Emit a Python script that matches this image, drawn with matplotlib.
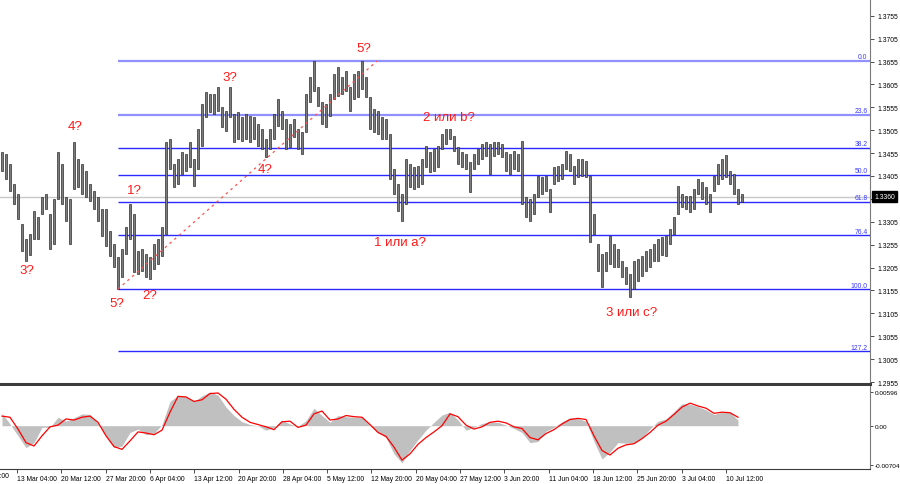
import numpy as np
import matplotlib
matplotlib.use('Agg')
import matplotlib.pyplot as plt
import matplotlib.transforms as mtransforms

plt.rcParams['font.family'] = ['Liberation Sans', 'DejaVu Sans']

# ---------------- data ----------------
highs = [
    1.3457, 1.3453, 1.3431, 1.3387, 1.3366, 1.3300, 1.3267, 1.3278, 1.3329, 1.3315,
    1.3359, 1.3366, 1.3322, 1.3355, 1.3457, 1.3431, 1.3359, 1.3355, 1.3479, 1.3442,
    1.3431, 1.3416, 1.3387, 1.3372, 1.3359, 1.3333, 1.3333, 1.3285, 1.3256, 1.3228,
    1.3246, 1.3294, 1.3344, 1.3322, 1.3241, 1.3246, 1.3235, 1.3228, 1.3256, 1.3267,
    1.3294, 1.3479, 1.3486, 1.3431, 1.3442, 1.3457, 1.3453, 1.3479, 1.3442, 1.3508,
    1.3562, 1.3588, 1.3584, 1.3584, 1.3599, 1.3555, 1.3546, 1.3599, 1.3540, 1.3544,
    1.3533, 1.3540, 1.3536, 1.3533, 1.3518, 1.3508, 1.3486, 1.3508, 1.3540, 1.3573,
    1.3546, 1.3529, 1.3518, 1.3529, 1.3508, 1.3501, 1.3584, 1.3621, 1.3656, 1.3599,
    1.3566, 1.3562, 1.3584, 1.3628, 1.3643, 1.3621, 1.3634, 1.3599, 1.3628, 1.3634,
    1.3656, 1.3621, 1.3577, 1.3551, 1.3546, 1.3533, 1.3529, 1.3497, 1.3420, 1.3387,
    1.3366, 1.3442, 1.3431, 1.3425, 1.3427, 1.3442, 1.3470, 1.3457, 1.3464, 1.3470,
    1.3497, 1.3508, 1.3508, 1.3492, 1.3468, 1.3457, 1.3453, 1.3436, 1.3453, 1.3464,
    1.3475, 1.3479, 1.3475, 1.3479, 1.3479, 1.3475, 1.3457, 1.3453, 1.3460, 1.3453,
    1.3481, 1.3359, 1.3355, 1.3366, 1.3405, 1.3403, 1.3405, 1.3377, 1.3425, 1.3427,
    1.3431, 1.3460, 1.3453, 1.3427, 1.3442, 1.3442, 1.3438, 1.3405, 1.3322, 1.3256,
    1.3235, 1.3239, 1.3274, 1.3256, 1.3246, 1.3219, 1.3206, 1.3191, 1.3219, 1.3224,
    1.3230, 1.3241, 1.3246, 1.3256, 1.3267, 1.3272, 1.3274, 1.3289, 1.3315, 1.3383,
    1.3366, 1.3361, 1.3361, 1.3377, 1.3398, 1.3392, 1.3381, 1.3366, 1.3405, 1.3431,
    1.3442, 1.3451, 1.3416, 1.3409, 1.3377, 1.3366,
]
lows = [
    1.3416, 1.3398, 1.3372, 1.3344, 1.3311, 1.3241, 1.3219, 1.3232, 1.3267, 1.3267,
    1.3322, 1.3333, 1.3246, 1.3256, 1.3355, 1.3344, 1.3307, 1.3256, 1.3377, 1.3381,
    1.3366, 1.3359, 1.3350, 1.3333, 1.3307, 1.3274, 1.3252, 1.3230, 1.3206, 1.3158,
    1.3184, 1.3235, 1.3267, 1.3196, 1.3191, 1.3198, 1.3184, 1.3180, 1.3202, 1.3213,
    1.3230, 1.3278, 1.3420, 1.3381, 1.3387, 1.3409, 1.3416, 1.3425, 1.3383, 1.3420,
    1.3470, 1.3533, 1.3544, 1.3540, 1.3546, 1.3512, 1.3503, 1.3533, 1.3479, 1.3486,
    1.3481, 1.3486, 1.3479, 1.3486, 1.3470, 1.3464, 1.3447, 1.3464, 1.3486, 1.3514,
    1.3508, 1.3464, 1.3468, 1.3490, 1.3464, 1.3453, 1.3501, 1.3566, 1.3590, 1.3558,
    1.3518, 1.3512, 1.3536, 1.3573, 1.3579, 1.3584, 1.3590, 1.3546, 1.3573, 1.3577,
    1.3595, 1.3577, 1.3508, 1.3501, 1.3497, 1.3486, 1.3486, 1.3398, 1.3366, 1.3329,
    1.3307, 1.3344, 1.3381, 1.3377, 1.3381, 1.3387, 1.3425, 1.3414, 1.3416, 1.3425,
    1.3464, 1.3475, 1.3486, 1.3460, 1.3431, 1.3425, 1.3420, 1.3370, 1.3420, 1.3431,
    1.3442, 1.3449, 1.3409, 1.3449, 1.3453, 1.3447, 1.3416, 1.3409, 1.3420, 1.3416,
    1.3344, 1.3315, 1.3307, 1.3322, 1.3359, 1.3366, 1.3372, 1.3326, 1.3387, 1.3394,
    1.3398, 1.3420, 1.3416, 1.3387, 1.3403, 1.3405, 1.3403, 1.3261, 1.3278, 1.3198,
    1.3163, 1.3198, 1.3213, 1.3206, 1.3206, 1.3184, 1.3169, 1.3141, 1.3158, 1.3176,
    1.3187, 1.3198, 1.3206, 1.3219, 1.3219, 1.3232, 1.3230, 1.3256, 1.3278, 1.3322,
    1.3337, 1.3333, 1.3326, 1.3333, 1.3366, 1.3355, 1.3344, 1.3326, 1.3372, 1.3387,
    1.3398, 1.3403, 1.3387, 1.3366, 1.3344, 1.3348,
]
last_price = 1.3360

fib_high = 1.3657
fib_low = 1.3158
fib_start = 29          # candle of the swing low
fib_ratios = [0.0, 23.6, 38.2, 50.0, 61.8, 76.4, 100.0, 127.2]

trend_idx = [29, 93.75]
trend_price = [1.3158, 1.3656]

wave_text = ['3?', '4?', '5?', '1?', '2?', '3?', '4?', '5?',
             '1 или a?', '2 или b?', '3 или c?']
wave_idx = [6.25, 18.25, 28.75, 33.0, 37.0, 57.0, 65.75, 90.5,
            99.5, 111.75, 157.5]
wave_price = [1.3200, 1.3514, 1.3128, 1.3374, 1.3145, 1.3621, 1.3420, 1.3685,
              1.3261, 1.3534, 1.3108]

# MACD, one value every 2 candles
macd_hist = [
    0.0022, 0.0003, -0.0018, -0.0039, -0.0030, -0.0003, -0.0003, 0.0015, 0.0008, 0.0014,
    0.0021, 0.0020, 0.0004, -0.0018, -0.0039, -0.0036, -0.0012, -0.0006, -0.0016, -0.0014,
    0.0002, 0.0043, 0.0054, 0.0051, 0.0043, 0.0053, 0.0060, 0.0054, 0.0033, 0.0018,
    0.0007, 0.0002, 0.0000, -0.0008, -0.0003, 0.0010, 0.0003, -0.0001, 0.0009, 0.0031,
    0.0018, 0.0006, 0.0018, 0.0016, 0.0015, 0.0015, 0.0000, -0.0012, -0.0021, -0.0050,
    -0.0066, -0.0044, -0.0025, -0.0008, 0.0006, 0.0019, 0.0024, 0.0010, -0.0008, -0.0003,
    0.0004, 0.0007, 0.0006, 0.0001, -0.0005, -0.0012, -0.0030, -0.0028, -0.0010, -0.0003,
    0.0007, 0.0014, 0.0013, 0.0008, -0.0028, -0.0059, -0.0047, -0.0030, -0.0031, -0.0031,
    -0.0021, -0.0006, 0.0008, 0.0012, 0.0025, 0.0039, 0.0038, 0.0034, 0.0028, 0.0020,
    0.0024, 0.0024, 0.0010,
]
macd_signal = [
    0.0017, 0.0015, -0.0006, -0.0030, -0.0036, -0.0018, -0.0002, 0.0001, 0.0012, 0.0010,
    0.0015, 0.0017, 0.0006, -0.0018, -0.0037, -0.0042, -0.0027, -0.0011, -0.0013, -0.0016,
    -0.0008, 0.0024, 0.0052, 0.0051, 0.0043, 0.0046, 0.0057, 0.0058, 0.0047, 0.0029,
    0.0015, 0.0006, 0.0002, -0.0002, -0.0007, 0.0007, 0.0008, -0.0003, 0.0001, 0.0021,
    0.0026, 0.0010, 0.0012, 0.0018, 0.0016, 0.0015, 0.0002, -0.0012, -0.0019, -0.0038,
    -0.0061, -0.0050, -0.0033, -0.0021, -0.0011, 0.0000, 0.0021, 0.0016, 0.0001, -0.0006,
    -0.0002, 0.0006, 0.0008, 0.0005, -0.0002, -0.0005, -0.0021, -0.0025, -0.0014, -0.0007,
    0.0003, 0.0011, 0.0013, 0.0011, -0.0018, -0.0044, -0.0052, -0.0040, -0.0034, -0.0032,
    -0.0023, -0.0012, 0.0001, 0.0008, 0.0020, 0.0033, 0.0040, 0.0035, 0.0031, 0.0022,
    0.0024, 0.0023, 0.0015,
]
macd_ticks = [0.00596, 0.0, -0.00704]
macd_tick_labels = ['0.00596', '0.00', '-0.00704']

date_labels = ['5 Mar 20:00', '13 Mar 04:00', '20 Mar 12:00', '27 Mar 20:00', '6 Apr 04:00',
               '13 Apr 12:00', '20 Apr 20:00', '28 Apr 04:00', '5 May 12:00',
               '12 May 20:00', '20 May 04:00', '27 May 12:00', '3 Jun 20:00',
               '11 Jun 04:00', '18 Jun 12:00', '25 Jun 20:00', '3 Jul 04:00', '10 Jul 12:00']

# ---------------- layout ----------------
W, H = 900, 485
PX_PER_BAR = 4.0
AX_W = 870
fig = plt.figure(figsize=(W / 100, H / 100), dpi=100)
ax = fig.add_axes([0, 1 - 385 / H, AX_W / W, 385 / H])
axm = fig.add_axes([0, 1 - 470 / H, AX_W / W, 83 / H])

xmin = -0.5
xmax = xmin + AX_W / PX_PER_BAR
TXT = 4.9

# ---------------- price panel ----------------
n = len(highs)
xs = np.arange(n)
hi = np.array(highs)
lo = np.array(lows)
ax.bar(xs, hi - lo, bottom=lo, width=0.72, color='#7c7c7c', edgecolor='#1e1e1e',
       linewidth=0.45, zorder=3)

ax.axhline(last_price, color='#c8c8c8', lw=1.0, zorder=1)

rng = fib_high - fib_low
for r in fib_ratios:
    lvl = fib_high - rng * r / 100.0
    light = r in (0.0, 23.6)
    ax.hlines(lvl, fib_start, xmax, color='#9090ff' if light else '#2a2aff',
              lw=1.6 if light else 1.0, zorder=2)
    ax.text(xmax - 0.6, lvl + 0.0001, f'{r:.1f}', ha='right', va='bottom',
            color='#3a3aff', fontsize=TXT, zorder=4)

ax.plot(trend_idx, trend_price, color='#ff5050', lw=0.9, ls=(0, (2, 3)), zorder=4)

for t, xi, yi in zip(wave_text, wave_idx, wave_price):
    ax.text(xi, yi, t, color='#ff1a1a', fontsize=9.5, ha='center', va='center', zorder=5)

ax.set_xlim(xmin, xmax)
ymax_p = 1.37915
ax.set_ylim(ymax_p - 385 * 0.0002184, ymax_p)
ax.yaxis.tick_right()
pticks = np.round(np.arange(1.2955, 1.3756, 0.005), 4)
ax.set_yticks(pticks)
# the label nearest the current-price tag is hidden by the tag
ax.set_yticklabels(['' if abs(v - last_price) < 0.001 else f'{v:.4f}' for v in pticks])
ax.tick_params(axis='y', length=3, width=0.6, labelsize=TXT, pad=2, color='#303030')
ax.set_xticks([])
for s in ['top', 'left']:
    ax.spines[s].set_visible(False)
ax.spines['right'].set_color('#7a7a7a')
ax.spines['bottom'].set_color('#3c3c3c')
ax.spines['bottom'].set_linewidth(2.2)

ax.annotate(f'{last_price:.4f}', xy=(1.0, last_price), xycoords=('axes fraction', 'data'),
            xytext=(3, 0), textcoords='offset points', ha='left', va='center',
            fontsize=TXT, color='white', annotation_clip=False,
            bbox=dict(boxstyle='square,pad=0.25', fc='black', ec='black'))

# ---------------- MACD panel ----------------
xm = np.arange(0, 2 * len(macd_hist), 2)
axm.fill_between(xm, 0, macd_hist, color='#c0c0c0', lw=0, zorder=2)
axm.plot(xm, macd_signal, color='#ff0000', lw=0.9, zorder=3)
axm.set_xlim(xmin, xmax)
axm.set_ylim(-0.00768, 0.00704)
axm.yaxis.tick_right()
axm.set_yticks(macd_ticks)
axm.set_yticklabels(macd_tick_labels)
axm.tick_params(axis='y', length=2, width=0.6, labelsize=4.6, pad=1.5, color='#303030')

tick0 = 3.75
tick_step = 11.075
tpos = [tick0 + tick_step * (k - 1) for k in range(len(date_labels))]
axm.set_xticks(tpos[1:])
axm.set_xticklabels(date_labels[1:])
for lbl in axm.get_xticklabels():
    lbl.set_ha('left')
axm.tick_params(axis='x', length=3, width=0.6, labelsize=TXT, pad=1.5, color='#303030')
axm.text(tpos[0], -0.04, date_labels[0], transform=mtransforms.blended_transform_factory(
    axm.transData, axm.transAxes), ha='left', va='top', fontsize=TXT, clip_on=False)
for s in ['top', 'left']:
    axm.spines[s].set_visible(False)
axm.spines['right'].set_color('#7a7a7a')
axm.spines['bottom'].set_color('#3c3c3c')

fig.savefig('out.png', dpi=100, facecolor='white')
